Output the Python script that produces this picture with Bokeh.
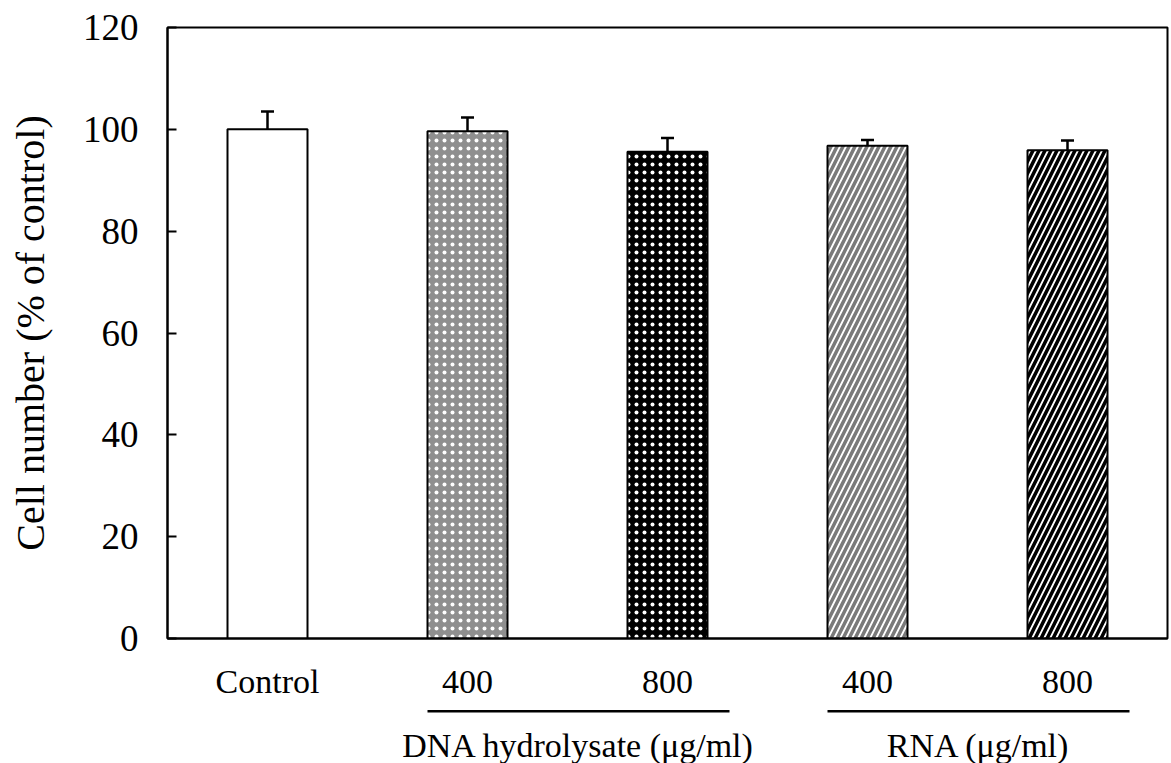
import math
from bokeh.plotting import figure
from bokeh.models import FixedTicker, Whisker, TeeHead, ColumnDataSource, Range1d
from bokeh.core.properties import value
from bokeh.embed import file_html
from bokeh.resources import INLINE

# ---- data ----
categories = ["Control", "400", "800", "400", "800"]
values = [100.0, 99.6, 95.6, 96.8, 95.9]
errors = [3.5, 2.7, 2.7, 1.1, 1.9]
group_names = ["DNA hydrolysate (\u03bcg/ml)", "RNA (\u03bcg/ml)"]
group_members = [[1, 2], [3, 4]]
y_ticks = [0, 20, 40, 60, 80, 100, 120]
y_title = "Cell number (% of control)"

# ---- styles ----
FONT = "Liberation Serif"
fills = ["white", "#8f8f8f", "black", "white", "white"]
hatches = [None, "dot", "dot", "right_diagonal_line", "right_diagonal_line"]
hatch_colors = ["white", "white", "white", "#7a7a7a", "black"]
hatch_scales = [6, 8, 8, 12, 12]
hatch_weights = [1, 3.5, 3.5, 3.5, 3.5]

p = figure(width=1171, height=763,
           x_range=Range1d(-0.5, 4.5), y_range=Range1d(0, 120),
           output_backend="svg", toolbar_location=None,
           min_border_left=167, min_border_right=4,
           min_border_top=27, min_border_bottom=125)

xs = list(range(len(categories)))
for i in xs:
    kw = dict(x=[xs[i]], top=[values[i]], width=0.4, bottom=0,
              fill_color=fills[i], line_color="black", line_width=2)
    if hatches[i]:
        kw.update(hatch_pattern=hatches[i], hatch_color=hatch_colors[i],
                  hatch_scale=hatch_scales[i], hatch_weight=hatch_weights[i])
    p.vbar(**kw)

src = ColumnDataSource(dict(x=xs, lower=values,
                            upper=[v + e for v, e in zip(values, errors)]))
w = Whisker(source=src, base="x", lower="lower", upper="upper",
            line_color="black", line_width=2.5,
            lower_head=None,
            upper_head=TeeHead(size=13, line_width=2.5, line_color="black"))
p.add_layout(w)

# group underlines and labels below the axis
for name, members in zip(group_names, group_members):
    x0 = members[0] - 0.2
    x1 = members[-1] + 0.31
    r = p.segment(x0=[x0], y0=[-14.3], x1=[x1], y1=[-14.3],
                  line_color="black", line_width=2.5)
    r.level = "overlay"
    t = p.text(x=[(x0 + x1) / 2], y=[-21], text=[name],
               text_align="center", text_baseline="middle",
               text_font=value(FONT), text_font_size="34px", text_color="black")
    t.level = "overlay"

# y-axis title drawn as rotated text (serif)
yt = p.text(x=[-1.185], y=[60], text=[y_title], angle=math.pi / 2,
            text_align="center", text_baseline="middle",
            text_font=value(FONT), text_font_size="40px", text_color="black")
yt.level = "overlay"

# axes
p.xgrid.visible = False
p.ygrid.visible = False
p.outline_line_color = "black"
p.outline_line_width = 2

xa = p.xaxis[0]
xa.ticker = FixedTicker(ticks=xs)
xa.major_label_overrides = {i: c for i, c in zip(xs, categories)}
xa.major_tick_in = 0
xa.major_tick_out = 0
xa.minor_tick_line_color = None
xa.axis_line_color = "black"
xa.axis_line_width = 2
xa.major_label_text_font = FONT
xa.major_label_text_font_size = "34px"
xa.major_label_text_color = "black"
xa.major_label_standoff = 24

ya = p.yaxis[0]
ya.ticker = FixedTicker(ticks=y_ticks)
ya.major_tick_in = 9
ya.major_tick_out = 0
ya.major_tick_line_width = 2
ya.major_tick_line_color = "black"
ya.minor_tick_line_color = None
ya.axis_line_color = "black"
ya.axis_line_width = 2
ya.major_label_text_font = FONT
ya.major_label_text_font_size = "37px"
ya.major_label_text_color = "black"
ya.major_label_standoff = 29

open("out.html", "w").write(file_html(p, INLINE))
